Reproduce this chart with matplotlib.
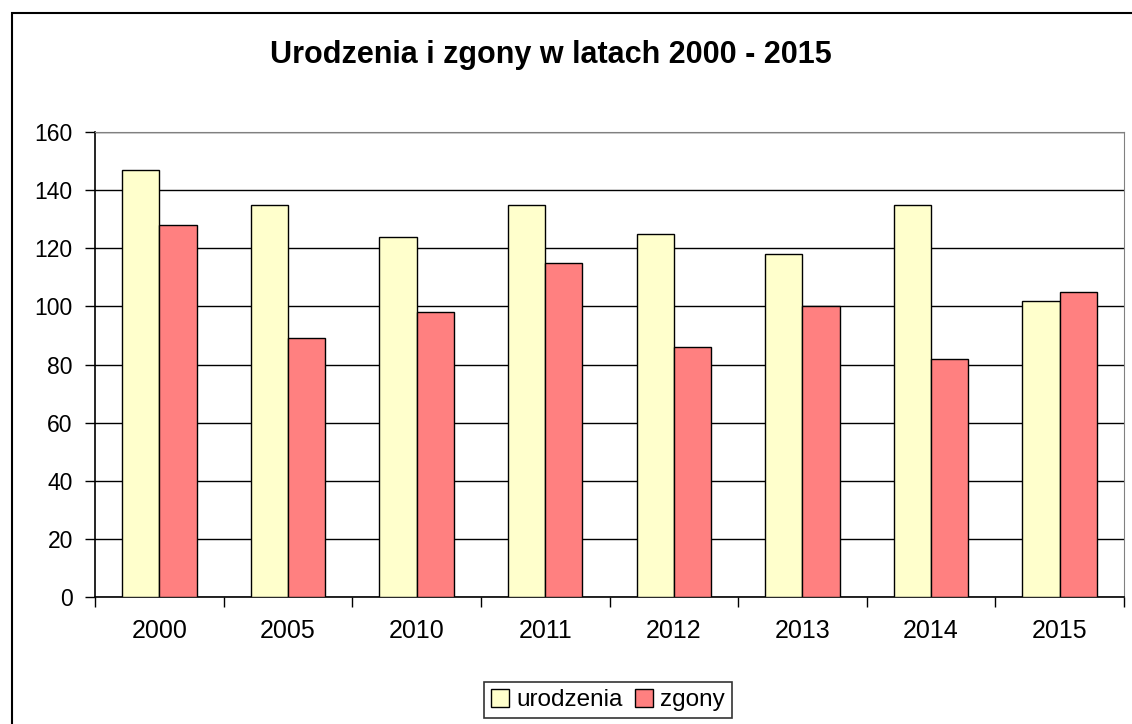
import matplotlib.pyplot as plt
import numpy as np
from matplotlib.patches import Rectangle

plt.rcParams['font.family'] = ['Liberation Sans', 'DejaVu Sans']

lata = ['2000', '2005', '2010', '2011', '2012', '2013', '2014', '2015']
urodzenia = [147, 135, 124, 135, 125, 118, 135, 102]
zgony = [128, 89, 98, 115, 86, 100, 82, 105]

W, H = 1132, 724
fig = plt.figure(figsize=(W / 100, H / 100), dpi=100)
fig.patch.set_facecolor('white')

# ramka wykresu (wychodzi poza obraz z prawej i u dołu)
fig.patches.append(Rectangle((12 / W, -0.05), 1.1, (H - 13) / H + 0.05,
                             transform=fig.transFigure, fill=False,
                             edgecolor='black', linewidth=1.5))

ax = fig.add_axes([95 / W, (H - 597) / H, (1124 - 95) / W, (597 - 132) / H])

x = np.arange(len(lata))
szer = 0.29
ax.bar(x - szer / 2, urodzenia, szer, color='#FFFFCC', edgecolor='black',
       linewidth=1, label='urodzenia', zorder=3)
ax.bar(x + szer / 2, zgony, szer, color='#FF8080', edgecolor='black',
       linewidth=1, label='zgony', zorder=3)

ax.set_xlim(-0.5, len(lata) - 0.5)
ax.set_ylim(0, 160)
ax.set_yticks(range(0, 161, 20))
ax.yaxis.grid(True, color='black', linewidth=1, zorder=0)

# etykiety w środku kategorii, kreski na granicach
ax.set_xticks(np.arange(-0.5, len(lata), 1))
ax.set_xticklabels([])
ax.set_xticks(x, minor=True)
ax.set_xticklabels(lata, minor=True)
ax.tick_params(axis='x', which='major', length=7, width=1, direction='out')
ax.tick_params(axis='x', which='minor', length=0, pad=16, labelsize=18)
ax.tick_params(axis='y', length=7, width=1, direction='out', labelsize=16.5, pad=9)

for s in ['top', 'right']:
    ax.spines[s].set_color('#808080')
for s in ['left', 'bottom']:
    ax.spines[s].set_color('black')
    ax.spines[s].set_linewidth(1.2)

fig.text(551 / W, (H - 55) / H, 'Urodzenia i zgony w latach 2000 - 2015',
         ha='center', va='center', fontsize=22, fontweight='bold')

leg = fig.legend(loc='center', bbox_to_anchor=(608 / W, (H - 700) / H),
                 ncol=2, fontsize=17.5, frameon=True, fancybox=False,
                 handlelength=0.75, handleheight=0.75, handletextpad=0.3,
                 columnspacing=0.5, borderpad=0.3, borderaxespad=0)
leg.get_frame().set_edgecolor('black')
leg.get_frame().set_linewidth(1.2)

plt.savefig('out.png', dpi=100)
